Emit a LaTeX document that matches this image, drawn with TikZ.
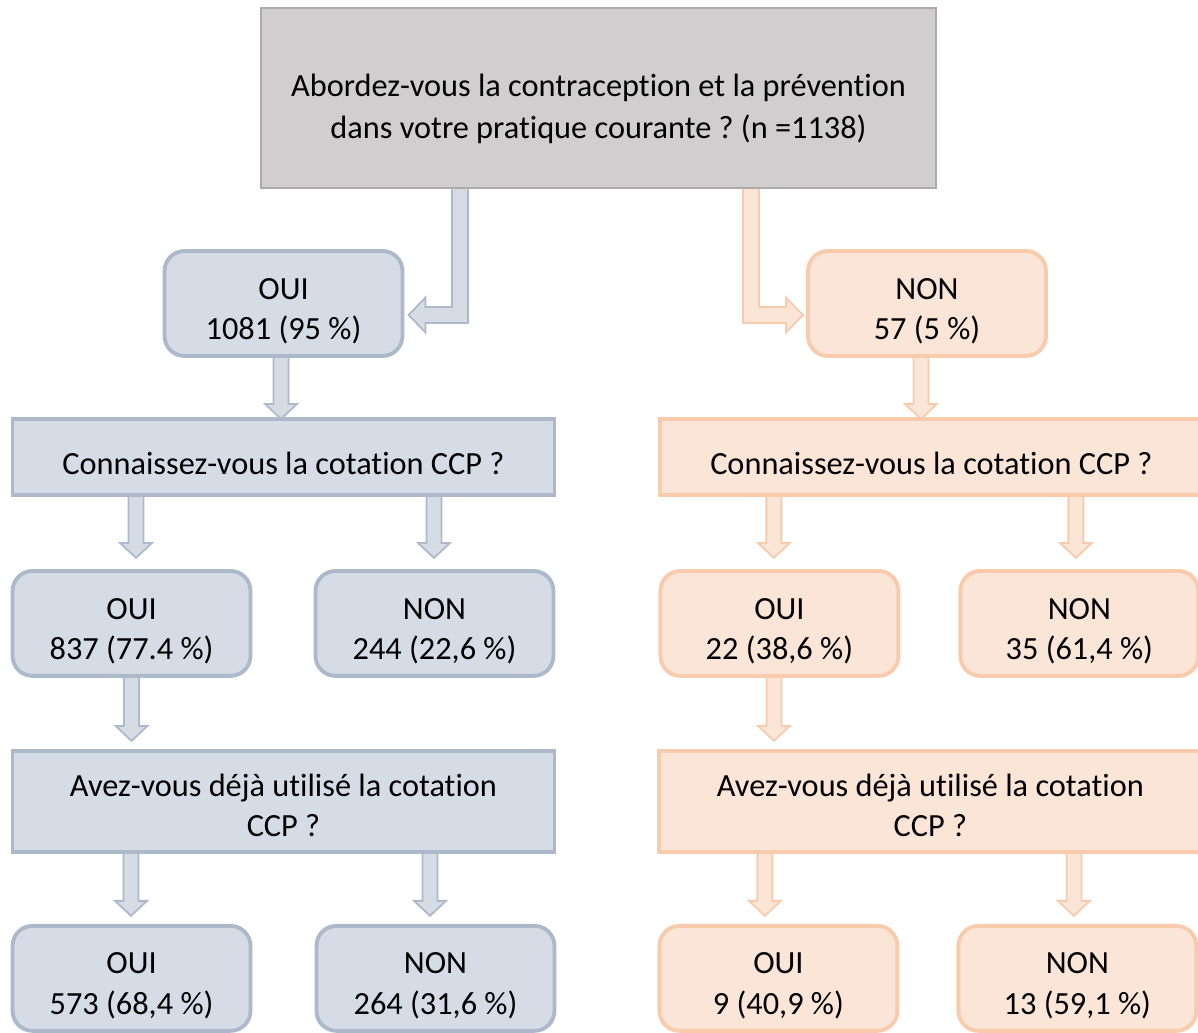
\documentclass[tikz,border=0pt]{standalone}
\usepackage{fontspec}
\setmainfont{Carlito}[RawFeature={-liga;-calt}]
\usetikzlibrary{positioning, calc, backgrounds}
\frenchspacing

\definecolor{bluefill}{HTML}{D6DCE5}
\definecolor{blueline}{HTML}{ADB9CA}
\definecolor{orangefill}{HTML}{FBE5D6}
\definecolor{orangeline}{HTML}{F8CBAD}
\definecolor{greyfill}{HTML}{D0CECE}
\definecolor{greyline}{HTML}{AEAAAA}

% block arrow going down: style, from node, to node, x shift, gap above target
\newcommand{\flowdown}[5]{%
  \path ($(#2.south)+(#4,0)$) coordinate (fs)
        (fs |- #3.north) coordinate (ft);
  \draw [#1] ($(fs)+(-7.5,0)$) -- ($(ft)+(-7.5,-15-#5)$) -- ($(ft)+(-16,-15-#5)$)
          -- ($(ft)+(0,-#5)$) -- ($(ft)+(16,-15-#5)$) -- ($(ft)+(7.5,-15-#5)$)
          -- ($(fs)+(7.5,0)$) -- cycle;
}

\begin{document}
\begin{tikzpicture} [ x=0.02cm, y=-0.02cm
                    , font=\fontsize{18.4}{23}\selectfont
                    , base/.style={inner sep=0pt, outer sep=0pt, align=center, text depth=0pt}
                    , topbox/.style={base, fill=greyfill, draw=greyline, line width=1.2pt, minimum width=13.5cm, minimum height=3.6cm, text height=46pt}
                    , qbox/.style={base, line width=2.2pt, minimum width=10.84cm}
                    , qone/.style={qbox, minimum height=1.52cm, text height=19.4pt}
                    , qtwo/.style={qbox, minimum height=2.02cm, text height=40pt}
                    , abox/.style={base, rounded corners=0.4cm, line width=2.2pt, minimum width=4.76cm, minimum height=2.1cm, text height=41pt}
                    , bluebox/.style={fill=bluefill, draw=blueline}
                    , orangebox/.style={fill=orangefill, draw=orangeline}
                    , blueflow/.style={fill=bluefill, draw=blueline, line width=1pt}
                    , orangeflow/.style={fill=orangefill, draw=orangeline, line width=1pt}
                    ]

  \useasboundingbox (0,0) rectangle (1198,1033);

  % --- Top question ----------------------------------------------------------
  \node [ topbox ]
        (abord) at (598.5,98) {Abordez-vous la contraception et la prévention\\[1pt]dans votre pratique courante ? (n =1138)};

  \node [ abox
        , bluebox
        ]
        (oui1) at (283.5,303.5) {OUI\\1081 (95~\%)};

  \node [ abox
        , orangebox
        ]
        (non1) at (927,303.5) {NON\\57 (5~\%)};
  % ---------------------------------------------------------------------------

  % --- CCP known ? -----------------------------------------------------------
  \node [ qone
        , bluebox
        , below=1.26cm of oui1
        ]
        (cotb) {Connaissez-vous la cotation CCP ?};

  \node [ qone
        , orangebox
        , right=2.12cm of cotb
        ]
        (coto) {Connaissez-vous la cotation CCP ?};

  \node [ abox
        , bluebox
        , below=1.52cm of cotb.south west
        , anchor=north west
        ]
        (oui2b) {OUI\\837 (77.4~\%)};

  \node [ abox
        , bluebox
        , right=1.3cm of oui2b
        ]
        (non2b) {NON\\244 (22,6~\%)};

  \node [ abox
        , orangebox
        , below=1.52cm of coto.south west
        , anchor=north west
        ]
        (oui2o) {OUI\\22 (38,6~\%)};

  \node [ abox
        , orangebox
        , right=1.24cm of oui2o
        ]
        (non2o) {NON\\35 (61,4~\%)};
  % ---------------------------------------------------------------------------

  % --- CCP used ? ------------------------------------------------------------
  \node [ qtwo
        , bluebox
        , below=1.5cm of oui2b.south west
        , anchor=north west
        ]
        (utilb) {Avez-vous déjà utilisé la cotation\\CCP ?};

  \node [ qtwo
        , orangebox
        , right=2.1cm of utilb
        ]
        (utilo) {Avez-vous déjà utilisé la cotation\\CCP ?};

  \node [ abox
        , bluebox
        , below=1.48cm of utilb.south west
        , anchor=north west
        ]
        (oui3b) {OUI\\573 (68,4~\%)};

  \node [ abox
        , bluebox
        , right=1.32cm of oui3b
        ]
        (non3b) {NON\\264 (31,6~\%)};

  \node [ abox
        , orangebox
        , below=1.48cm of utilo.south west
        , anchor=north west
        ]
        (oui3o) {OUI\\9 (40,9~\%)};

  \node [ abox
        , orangebox
        , right=1.22cm of oui3o
        ]
        (non3o) {NON\\13 (59,1~\%)};
  % ---------------------------------------------------------------------------

  % --- Arrows ----------------------------------------------------------------
  \begin{scope}[on background layer]
    \path ($(abord.south)+(-138.5,0)$) coordinate (bs)
          ($(oui1.east)+(6,11.5)$) coordinate (bt)
          (bs |- bt) coordinate (bc);
    \draw [blueflow] ($(bs)+(8,0)$) -- ($(bc)+(8,8)$) -- ($(bt)+(17,8)$) -- ($(bt)+(17,17.5)$)
                  -- (bt) -- ($(bt)+(17,-17.5)$) -- ($(bt)+(17,-8)$) -- ($(bc)+(-8,-8)$)
                  -- ($(bs)+(-8,0)$) -- cycle;

    \path ($(abord.south)+(152.5,0)$) coordinate (os)
          ($(non1.west)+(-5,11.5)$) coordinate (ot)
          (os |- ot) coordinate (oc);
    \draw [orangeflow] ($(os)+(-8,0)$) -- ($(oc)+(-8,8)$) -- ($(ot)+(-17,8)$) -- ($(ot)+(-17,17.5)$)
                    -- (ot) -- ($(ot)+(-17,-17.5)$) -- ($(ot)+(-17,-8)$) -- ($(oc)+(8,-8)$)
                    -- ($(os)+(8,0)$) -- cycle;

    \flowdown{blueflow}{oui1}{cotb}{-2.5}{0}
    \flowdown{orangeflow}{non1}{coto}{-6}{0}

    \flowdown{blueflow}{cotb}{oui2b}{-147.5}{13}
    \flowdown{blueflow}{cotb}{non2b}{150.5}{13}
    \flowdown{orangeflow}{coto}{oui2o}{-157.5}{13}
    \flowdown{orangeflow}{coto}{non2o}{144.5}{13}

    \flowdown{blueflow}{oui2b}{utilb}{0}{10}
    \flowdown{orangeflow}{oui2o}{utilo}{-5.5}{10}

    \flowdown{blueflow}{utilb}{oui3b}{-152.5}{10}
    \flowdown{blueflow}{utilb}{non3b}{146.5}{10}
    \flowdown{orangeflow}{utilo}{oui3o}{-165.5}{10}
    \flowdown{orangeflow}{utilo}{non3o}{143.5}{10}
  \end{scope}
  % ---------------------------------------------------------------------------
\end{tikzpicture}
\end{document}
